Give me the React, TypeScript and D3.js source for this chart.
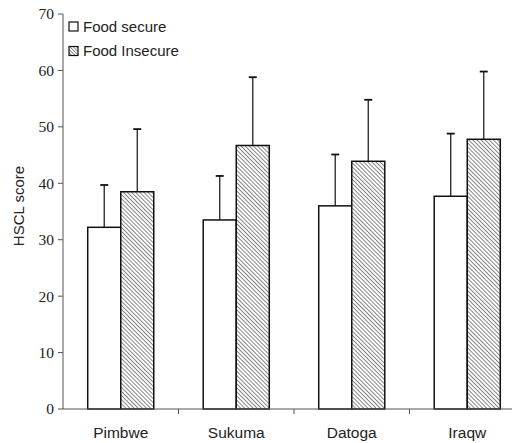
import React from "react";
import * as d3 from "d3";

const categories = ["Pimbwe", "Sukuma", "Datoga", "Iraqw"];
const seriesNames = ["Food secure", "Food Insecure"];
const secureMeans = [32.2, 33.5, 36.0, 37.7];
const secureErrTop = [39.7, 41.3, 45.1, 48.8];
const insecureMeans = [38.5, 46.7, 43.9, 47.8];
const insecureErrTop = [49.6, 58.8, 54.8, 59.8];
const yTicks = [0, 10, 20, 30, 40, 50, 60, 70];

export default function App() {
  const W = 512, H = 443;
  const x0 = 63, xEnd = 63 + 4 * 115.5;
  const y = d3.scaleLinear().domain([0, 70]).range([409, 14]);
  const x = d3.scaleBand<string>().domain(categories).range([x0, xEnd]).padding(0);
  const bw = x.bandwidth();
  const x1 = d3.scaleBand<string>().domain(seriesNames).range([bw * 0.214, bw * 0.786]).padding(0);
  const barW = x1.bandwidth();
  const series = [
    { name: seriesNames[0], means: secureMeans, err: secureErrTop, fill: "#fff" },
    { name: seriesNames[1], means: insecureMeans, err: insecureErrTop, fill: "url(#hatch)" },
  ];
  const axisColor = "#555";
  return (
    <svg width={W} height={H} style={{ position: "absolute", left: 0, top: 0, background: "#fff" }}>
      <defs>
        <pattern id="hatch" patternUnits="userSpaceOnUse" width={2.9} height={2.9} patternTransform="rotate(-45)">
          <rect width={2.9} height={2.9} fill="#fff" />
          <line x1={0} y1={0} x2={0} y2={2.9} stroke="#222" strokeWidth={1.1} />
        </pattern>
        <pattern id="hatchSmall" patternUnits="userSpaceOnUse" width={2.4} height={2.4} patternTransform="rotate(-45)">
          <rect width={2.4} height={2.4} fill="#fff" />
          <line x1={0} y1={0} x2={0} y2={2.4} stroke="#222" strokeWidth={1} />
        </pattern>
      </defs>
      {/* bars */}
      {series.map((s) =>
        categories.map((c, i) => {
          const bx = (x(c) as number) + (x1(s.name) as number);
          const cx = bx + barW / 2;
          return (
            <g key={s.name + c}>
              <line x1={cx} x2={cx} y1={y(s.means[i])} y2={y(s.err[i])} stroke="#222" strokeWidth={1.3} />
              <line x1={cx - 4} x2={cx + 4} y1={y(s.err[i])} y2={y(s.err[i])} stroke="#111" strokeWidth={1.8} />
              <rect x={bx} y={y(s.means[i])} width={barW} height={y(0) - y(s.means[i])} fill={s.fill} stroke="#111" strokeWidth={1.5} />
            </g>
          );
        })
      )}
      {/* y axis */}
      <line x1={x0} x2={x0} y1={y(70)} y2={y(0)} stroke={axisColor} strokeWidth={1} />
      {yTicks.map((t) => (
        <g key={t}>
          <line x1={x0 - 5} x2={x0} y1={y(t)} y2={y(t)} stroke={axisColor} strokeWidth={1} />
          <text x={x0 - 9} y={y(t)} dy="0.35em" textAnchor="end" fontFamily="Liberation Serif" fontSize={15.5} fill="#222">{t}</text>
        </g>
      ))}
      {/* x axis */}
      <line x1={x0} x2={W} y1={y(0)} y2={y(0)} stroke={axisColor} strokeWidth={1.2} />
      {categories.map((c, i) => (
        <g key={c}>
          {i > 0 && <line x1={x(c) as number} x2={x(c) as number} y1={y(0)} y2={y(0) + 5} stroke={axisColor} strokeWidth={1} />}
          <text x={(x(c) as number) + bw / 2} y={438} textAnchor="middle" fontFamily="Liberation Sans" fontSize={15.5} fill="#222">{c}</text>
        </g>
      ))}
      {/* y label */}
      <text transform={`translate(24,206) rotate(-90)`} textAnchor="middle" fontFamily="Liberation Sans" fontSize={15} fill="#222">HSCL score</text>
      {/* legend */}
      {series.map((s, i) => (
        <g key={s.name} transform={`translate(69,${22 + i * 24.5})`}>
          <rect x={0} y={0} width={9} height={9} fill={i === 0 ? "#fff" : "url(#hatchSmall)"} stroke="#111" strokeWidth={1.2} />
          <text x={14} y={9.5} fontFamily="Liberation Sans" fontSize={15} fill="#222">{s.name}</text>
        </g>
      ))}
    </svg>
  );
}
